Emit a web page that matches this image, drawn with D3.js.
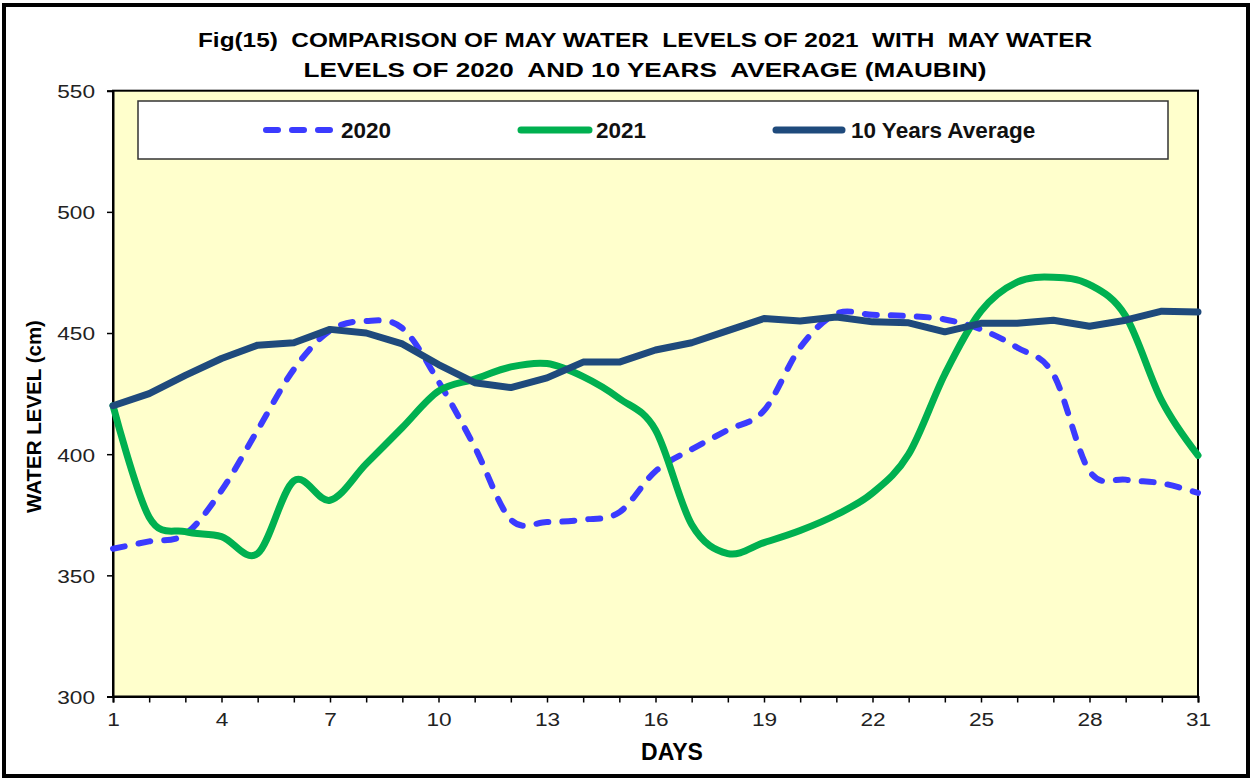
<!DOCTYPE html>
<html>
<head>
<meta charset="utf-8">
<script src="https://cdn.jsdelivr.net/npm/d3@7/dist/d3.min.js"></script>
<style>
  body { margin: 0; background: #fff; }
  svg text { font-family: Arial, "Liberation Sans", sans-serif; white-space: pre; }
</style>
</head>
<body>
<svg id="chart" width="1255" height="781"></svg>
<script>
const days = d3.range(1, 32);
const yTicks = [300, 350, 400, 450, 500, 550];
const xTicks = [1, 4, 7, 10, 13, 16, 19, 22, 25, 28, 31];

const level2020 = [361, 364, 367, 385, 410, 435, 451, 455, 452, 430, 403, 373, 372, 373, 376, 393,
  402, 410, 418, 444, 458, 457.5, 457, 455.6, 451.5, 444, 433, 393, 389.5, 388, 384];
const level2021 = [420, 374, 368, 366, 359, 389, 381, 396, 411, 426, 431, 436, 437.4, 432, 423, 410,
  371, 359, 363.5, 368.5, 375, 384, 400, 433, 459, 471, 473, 470, 457, 422, 399.5];
const levelAvg = [420, 425, 432.5, 439.5, 445, 446, 451.5, 450, 445.5, 437, 429.5, 427.5, 431.5, 438,
  438, 443, 446, 451, 456, 455, 456.6, 454.6, 454.2, 450.5, 454, 454, 455.3, 452.8, 455.3, 459, 458.7];

const series = [
  {name: "2020", values: level2020, color: "#3B3BFF", width: 6, dash: "12,14", curve: d3.curveCatmullRom.alpha(0)},
  {name: "2021", values: level2021, color: "#00B050", width: 7, dash: null, curve: d3.curveCatmullRom.alpha(0)},
  {name: "10 Years Average", values: levelAvg, color: "#1F4A7C", width: 7, dash: null, curve: d3.curveLinear}
];

const svg = d3.select("#chart");
const plot = {left: 113, right: 1198, top: 90.7, bottom: 696.5};

const x = d3.scaleLinear().domain([1, 31]).range([plot.left, plot.right]);
const y = d3.scaleLinear().domain([300, 550]).range([plot.bottom, plot.top]);

// outer frame
svg.append("rect").attr("x", 4).attr("y", 5).attr("width", 1244).attr("height", 771)
  .attr("fill", "#fff").attr("stroke", "#000").attr("stroke-width", 4);

// title
const title = [
  {text: "Fig(15)  COMPARISON OF MAY WATER  LEVELS OF 2021  WITH  MAY WATER", y: 47, len: 894},
  {text: "LEVELS OF 2020  AND 10 YEARS  AVERAGE (MAUBIN)", y: 76.5, len: 683}
];
svg.selectAll(".title").data(title).enter().append("text")
  .attr("x", 645).attr("y", d => d.y)
  .attr("text-anchor", "middle").attr("font-size", 20).attr("font-weight", "bold")
  .attr("textLength", d => d.len).attr("lengthAdjust", "spacingAndGlyphs")
  .text(d => d.text);

// plot area
svg.append("rect").attr("x", plot.left).attr("y", plot.top)
  .attr("width", plot.right - plot.left).attr("height", plot.bottom - plot.top)
  .attr("fill", "#FFFFCC").attr("stroke", "#000").attr("stroke-width", 2);

// axes
const yAxis = svg.append("g").attr("transform", `translate(${plot.left},0)`)
  .call(d3.axisLeft(y).tickValues(yTicks).tickSize(6).tickPadding(12));
const xAxis = svg.append("g").attr("transform", `translate(0,${plot.bottom})`)
  .call(d3.axisBottom(x).tickValues(days).tickSize(6).tickPadding(10)
    .tickFormat(d => xTicks.includes(d) ? d : ""));

[yAxis, xAxis].forEach(g => {
  g.select(".domain").attr("stroke", "#000").attr("stroke-width", 2);
  g.selectAll(".tick line").attr("stroke", "#000").attr("stroke-width", 1.5);
  g.selectAll(".tick text").attr("font-size", 19.2).attr("fill", "#222")
    .attr("font-family", "Arial, 'Liberation Sans', sans-serif")
    .each(function() {
      const w = this.getComputedTextLength();
      if (w > 0) d3.select(this).attr("textLength", w * 1.18).attr("lengthAdjust", "spacingAndGlyphs");
    });
});
yAxis.selectAll(".tick text").attr("dy", "0.36em");

// lines
const line = d3.line().x((d, i) => x(days[i])).y(d => y(d));
svg.append("g").selectAll("path").data(series).enter().append("path")
  .attr("d", s => line.curve(s.curve)(s.values))
  .attr("fill", "none")
  .attr("stroke", s => s.color)
  .attr("stroke-width", s => s.width)
  .attr("stroke-dasharray", s => s.dash)
  .attr("stroke-linecap", "round")
  .attr("stroke-linejoin", "round");

// legend
svg.append("rect").attr("x", 138).attr("y", 101).attr("width", 1030).attr("height", 58)
  .attr("fill", "#fff").attr("stroke", "#333").attr("stroke-width", 1.5);
const legendPos = [
  {x1: 266, x2: 330, tx: 341},
  {x1: 521, x2: 589, tx: 596},
  {x1: 776, x2: 842, tx: 851}
];
const leg = svg.append("g").selectAll("g").data(series).enter().append("g");
leg.append("line")
  .attr("x1", (d, i) => legendPos[i].x1).attr("x2", (d, i) => legendPos[i].x2)
  .attr("y1", 130).attr("y2", 130)
  .attr("stroke", d => d.color).attr("stroke-width", d => d.width)
  .attr("stroke-dasharray", d => d.dash ? "12,14" : null)
  .attr("stroke-linecap", "round");
leg.append("text")
  .attr("x", (d, i) => legendPos[i].tx).attr("y", 138)
  .attr("font-size", 22.5).attr("font-weight", "bold").attr("fill", "#111")
  .text(d => d.name);

// axis titles
svg.append("text")
  .attr("transform", "translate(41,416.5) rotate(-90)")
  .attr("text-anchor", "middle").attr("font-size", 20.5).attr("font-weight", "bold")
  .text("WATER LEVEL (cm)");
svg.append("text")
  .attr("x", 672).attr("y", 760)
  .attr("text-anchor", "middle").attr("font-size", 23).attr("font-weight", "bold")
  .text("DAYS");
</script>
</body>
</html>
